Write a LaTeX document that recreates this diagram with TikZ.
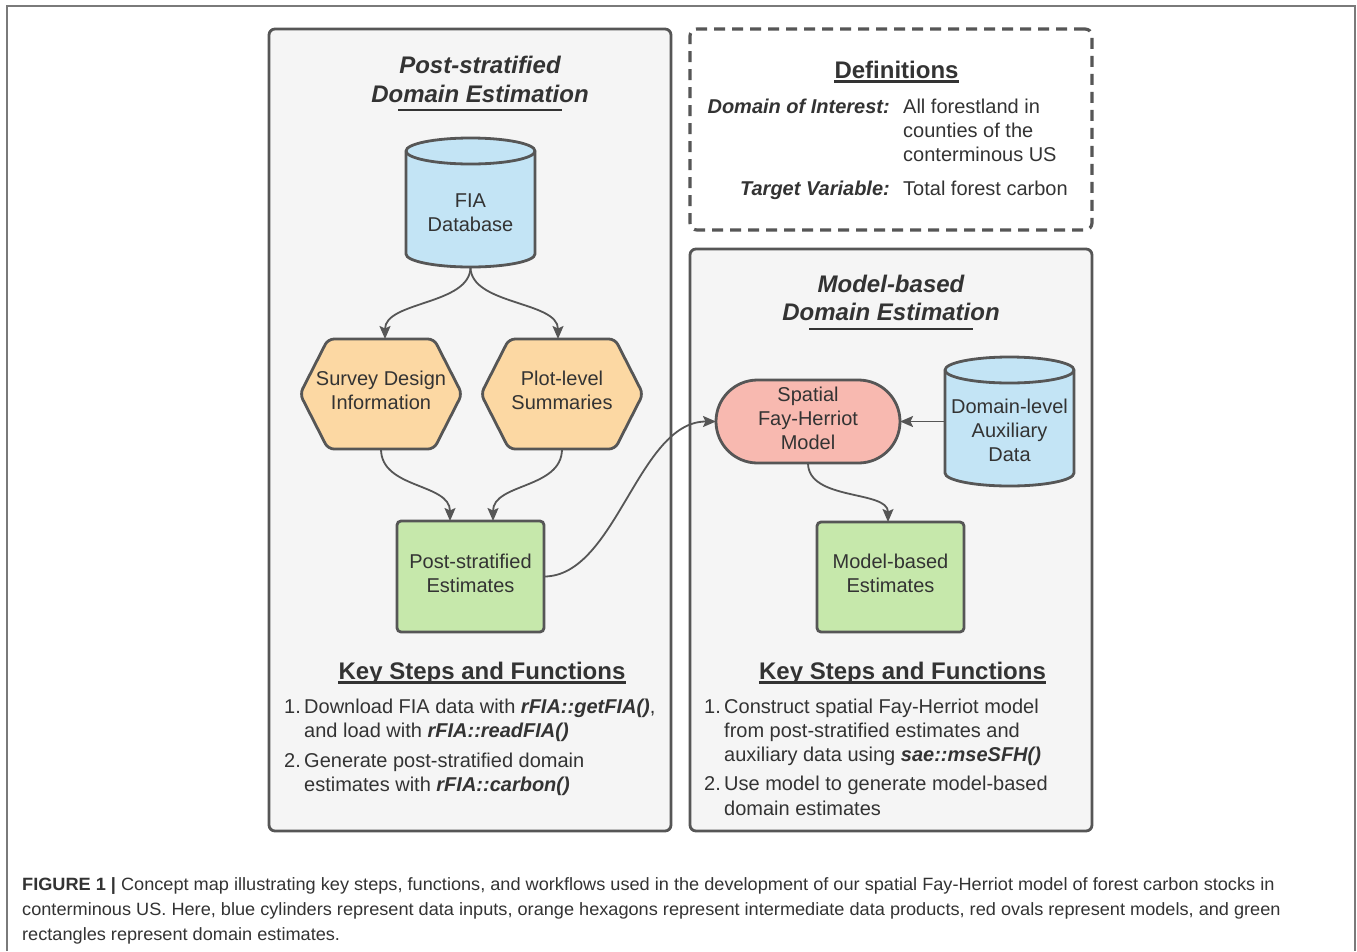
\documentclass[tikz,border=0pt]{standalone}
\usepackage{fontspec}
\setmainfont{Liberation Sans}
\newfontfamily\capfont[FakeStretch=1.02]{Liberation Sans}
\usetikzlibrary{arrows.meta,calc}
\definecolor{ink}{HTML}{333333}
\definecolor{bord}{HTML}{565656}
\definecolor{panelbg}{HTML}{F5F5F5}
\definecolor{cylblue}{HTML}{C3E4F5}
\definecolor{hexorange}{HTML}{FCD8A3}
\definecolor{boxgreen}{HTML}{C6E8AB}
\definecolor{modelred}{HTML}{F8B9B0}
\definecolor{framegray}{HTML}{7A7A7A}
% cylinder: cx, top, bottom, half width, ellipse radius
\newcommand\cylpath[5]{%
  \filldraw[cylsty] ({#1-#4},{#2+#5}) -- ({#1-#4},{#3-#5})
    arc[start angle=180,end angle=360,x radius=#4pt,y radius=#5pt]
    -- ({#1+#4},{#2+#5})
    arc[start angle=0,end angle=180,x radius=#4pt,y radius=#5pt] -- cycle;
  \draw[cylsty,fill=none] ({#1-#4},{#2+#5})
    arc[start angle=180,end angle=360,x radius=#4pt,y radius=#5pt];}
% hexagon: cx, cy
\newcommand\hexpath[2]{%
  \filldraw[hexsty] ({#1-81},#2) -- ({#1-53},{#2-55}) -- ({#1+53},{#2-55})
    -- ({#1+81},#2) -- ({#1+53},{#2+55}) -- ({#1-53},{#2+55}) -- cycle;}
\begin{document}
\begin{tikzpicture}[x=1pt,y=-1pt,
  panel/.style={draw=bord,line width=2.8pt,fill=panelbg,rounded corners=6pt,inner sep=0pt},
  defbox/.style={draw=bord,line width=3.2pt,dash pattern=on 11pt off 7pt,rounded corners=7pt,inner sep=0pt},
  ghost/.style={draw=none,inner sep=0pt,outer sep=0pt},
  cylsty/.style={draw=bord,line width=2.8pt,fill=cylblue},
  hexsty/.style={draw=bord,line width=2.8pt,fill=hexorange,rounded corners=6pt},
  gbox/.style={draw=bord,line width=2.8pt,fill=boxgreen,rounded corners=4pt,inner sep=0pt,outer sep=0pt},
  mnode/.style={draw=bord,line width=2.8pt,fill=modelred,inner sep=0pt,outer sep=0pt},
  lbl/.style={text=ink,font=\fontsize{20}{24}\selectfont,align=center,inner sep=0pt},
  ttl/.style={text=ink,font=\fontsize{24}{29}\selectfont\bfseries\itshape,anchor=base,inner sep=0pt},
  hdr/.style={text=ink,font=\fontsize{24}{29}\selectfont\bfseries,anchor=base,inner sep=0pt},
  defk/.style={text=ink,font=\fontsize{20}{24}\selectfont\bfseries\itshape,anchor=base east,inner sep=0pt},
  defv/.style={text=ink,font=\fontsize{20}{24}\selectfont,anchor=base west,inner sep=0pt},
  li/.style={text=ink,font=\fontsize{20}{24}\selectfont,anchor=base west,inner sep=0pt},
  captxt/.style={text=ink,font=\capfont\fontsize{17.8}{25}\selectfont,anchor=base west,inner sep=0pt},
  uline/.style={draw=ink,line width=2.2pt},
  arr/.style={draw=bord,line width=1.8pt,-{Stealth[length=13pt,width=11pt,inset=2.5pt]}},
  framel/.style={draw=framegray,line width=2pt}
]
\useasboundingbox (0,0) rectangle (1357,951);
\fill[white] (0,0) rectangle (1357,951);
\draw[framel] (7,951) -- (7,6) -- (1355,6) -- (1355,951);

% panels
\node[panel,minimum width=402pt,minimum height=802pt] (lp) at (470,430) {};
\node[defbox,minimum width=402pt,minimum height=201pt] (defs) at (891,129.5) {};
\node[panel,minimum width=402pt,minimum height=582pt] (rp) at (891,540) {};

% titles
\node[ttl] (lt1) at (480,73) {Post-stratified};
\node[ttl] (lt2) at (480,102) {Domain Estimation};
\draw[uline] (398,110) -- (562,110);
\node[ttl] (rt1) at (891,292) {Model-based};
\node[ttl] (rt2) at (891,320) {Domain Estimation};
\draw[uline] (809,329) -- (973,329);

% definitions
\node[hdr] (dh) at (896.5,78) {Definitions};
\draw[uline] ($(dh.base west)+(0,3.5)$) -- ($(dh.base east)+(0,3.5)$);
\node[defk] (dk1) at (890,113) {Domain of Interest:};
\node[defv] (dv1) at (903,113) {All forestland in};
\node[defv] (dv2) at (903,137) {counties of the};
\node[defv] (dv3) at (903,161.5) {conterminous US};
\node[defk] (dk2) at (890,195.5) {Target Variable:};
\node[defv] (dv4) at (903,195.5) {Total forest carbon};

% FIA cylinder
\node[ghost,minimum width=129pt,minimum height=129pt] (fia) at (470.5,202.5) {};
\cylpath{470.5}{138}{267}{64.5}{13}
\node[lbl] (fiat) at (470.5,213) {FIA\\Database};

% hexagons
\node[ghost,minimum width=162pt,minimum height=110pt] (sdi) at (381,394) {};
\hexpath{381}{394}
\node[lbl] (sdit) at (381,390) {Survey Design\\Information};
\node[ghost,minimum width=162pt,minimum height=110pt] (pls) at (562,394) {};
\hexpath{562}{394}
\node[lbl] (plst) at (562,390) {Plot-level\\Summaries};

% post-stratified estimates
\node[gbox,minimum width=147pt,minimum height=111pt] (pse) at (470.5,576.5) {};
\node[lbl] (pset) at (470.5,573.5) {Post-stratified\\Estimates};

% model
\node[mnode,rounded corners=41.5pt,minimum width=184pt,minimum height=83pt] (sfh) at (808,421.5) {};
\node[lbl] (sfht) at (808,418) {Spatial\\Fay-Herriot\\Model};

% auxiliary cylinder
\node[ghost,minimum width=129pt,minimum height=129pt] (aux) at (1009.5,421.5) {};
\cylpath{1009.5}{357}{486}{64.5}{13}
\node[lbl] (auxt) at (1009.5,430) {Domain-level\\Auxiliary\\Data};

% model-based estimates
\node[gbox,minimum width=147pt,minimum height=110pt] (mbe) at (890.5,577) {};
\node[lbl] (mbet) at (890.5,573.5) {Model-based\\Estimates};

% connectors
\draw[arr] (fia.south) .. controls +(0,38) and +(0,-38) .. ([xshift=4pt]sdi.north);
\draw[arr] (fia.south) .. controls +(0,38) and +(0,-38) .. ([xshift=-4pt]pls.north);
\draw[arr] (sdi.south) .. controls +(0,40) and +(0,-38) .. ([xshift=-20.5pt]pse.north);
\draw[arr] (pls.south) .. controls +(0,40) and +(0,-38) .. ([xshift=22.5pt]pse.north);
\draw[arr] (pse.east) .. controls +(72,0) and +(-78,0) .. (sfh.west);
\draw[arr] (aux.west) -- (sfh.east);
\draw[arr] (sfh.south) .. controls +(0,38) and +(0,-32) .. ([xshift=-2.5pt]mbe.north);

% key steps
\node[hdr] (ks1) at (482,679) {Key Steps and Functions};
\draw[uline] ($(ks1.base west)+(0,3.5)$) -- ($(ks1.base east)+(0,3.5)$);
\node[hdr] (ks2) at (902.5,679) {Key Steps and Functions};
\draw[uline] ($(ks2.base west)+(0,3.5)$) -- ($(ks2.base east)+(0,3.5)$);

\node[li] (l1n) at (284,713) {1.};
\node[li] (l1a) at (304,713) {Download FIA data with \textbf{\textit{rFIA::getFIA()}},};
\node[li] (l1b) at (304,737) {and load with \textbf{\textit{rFIA::readFIA()}}};
\node[li] (l2n) at (284,767) {2.};
\node[li] (l2a) at (304,767) {Generate post-stratified domain};
\node[li] (l2b) at (304,791.5) {estimates with \textbf{\textit{rFIA::carbon()}}};

\node[li] (r1n) at (704,713) {1.};
\node[li] (r1a) at (724,713) {Construct spatial Fay-Herriot model};
\node[li] (r1b) at (724,737) {from post-stratified estimates and};
\node[li] (r1c) at (724,761.5) {auxiliary data using \textbf{\textit{sae::mseSFH()}}};
\node[li] (r2n) at (704,790) {2.};
\node[li] (r2a) at (724,790) {Use model to generate model-based};
\node[li] (r2b) at (724,815) {domain estimates};

% caption
\node[captxt] (c1) at (22,890) {\textbf{FIGURE 1 |} Concept map illustrating key steps, functions, and workflows used in the development of our spatial Fay-Herriot model of forest carbon stocks in};
\node[captxt] (c2) at (22,915) {conterminous US. Here, blue cylinders represent data inputs, orange hexagons represent intermediate data products, red ovals represent models, and green};
\node[captxt] (c3) at (22,940) {rectangles represent domain estimates.};
\end{tikzpicture}
\end{document}
